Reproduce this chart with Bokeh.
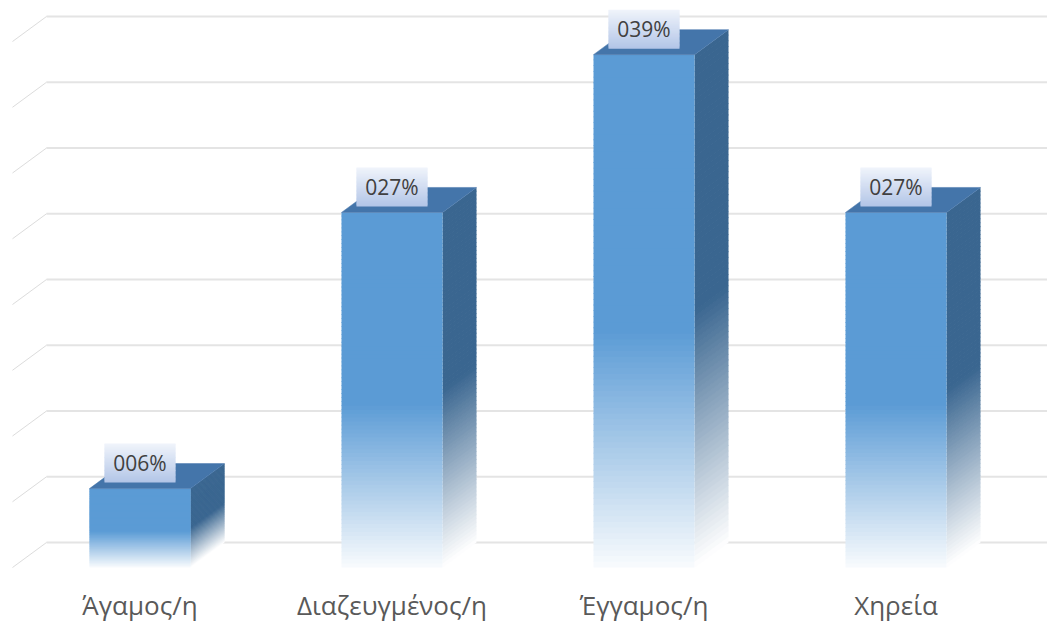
import numpy as np
from bokeh.plotting import figure
from bokeh.models import Range1d
from bokeh.core.properties import value
from bokeh.embed import file_html
from bokeh.resources import INLINE

# ---- data -------------------------------------------------------------
categories = ["Άγαμος/η", "Διαζευγμένος/η", "Έγγαμος/η", "Χηρεία"]
shares = [6, 27, 39, 27]
share_labels = ["006%", "027%", "039%", "027%"]
gridline_values = [0, 5, 10, 15, 20, 25, 30, 35, 40]

# ---- layout (pixels -> data units) ------------------------------------
W, H = 1047, 624
X0_PX, SLOT_PX = 139.5, 252.0        # first category centre, category pitch
FLOOR_PX, PX_PER_UNIT = 567.0, 13.15  # front floor line, pixels per percent
HALF = 50.5 / SLOT_PX                 # half width of a column front face
DX = 34.0 / SLOT_PX                   # depth offset (x)
DY = 25.0 / PX_PER_UNIT               # depth offset (y)
WALL_LEFT = (12.0 - X0_PX) / SLOT_PX
N_SLICES = 90
OVERLAP = 0.8 / PX_PER_UNIT           # slices overlap slightly to hide seams

FRONT = np.array([91, 155, 213])
SIDE = np.array([58, 102, 144])
TOP = np.array([68, 117, 170])
WHITE = np.array([255, 255, 255])


def hexcol(rgb):
    r, g, b = [int(round(c)) for c in rgb]
    return "#%02x%02x%02x" % (r, g, b)


def fade(base, t):
    return hexcol(WHITE * (1 - t) + base * t)


p = figure(width=W, height=H,
           x_range=Range1d((0 - X0_PX) / SLOT_PX, (W - X0_PX) / SLOT_PX),
           y_range=Range1d((FLOOR_PX - H) / PX_PER_UNIT, FLOOR_PX / PX_PER_UNIT),
           x_axis_location=None, y_axis_location=None,
           toolbar_location=None, output_backend="svg", min_border=0)
p.grid.visible = False
p.outline_line_color = None
p.background_fill_color = "white"
p.border_fill_color = "white"

# ---- back wall gridlines with the perspective stub on the left --------
gv = np.array(gridline_values, dtype=float)
p.segment(x0=[WALL_LEFT + DX] * len(gv), y0=gv + DY,
          x1=[p.x_range.end] * len(gv), y1=gv + DY,
          line_color="#e4e4e4", line_width=2)
p.segment(x0=[WALL_LEFT] * len(gv), y0=gv,
          x1=[WALL_LEFT + DX] * len(gv), y1=gv + DY,
          line_color="#dcdcdc", line_width=1)

# ---- 3-D columns, faded towards the floor -----------------------------
fl, fr, fb, ft, fc = [], [], [], [], []
sxs, sys_, sc = [], [], []
txs, tys, tc = [], [], []
for i, v in enumerate(shares):
    c = float(i)
    left, right = c - HALF, c + HALF
    edges = np.linspace(0, v, N_SLICES + 1)
    for k in range(N_SLICES):
        y0 = edges[k]
        y1 = min(v, edges[k + 1] + OVERLAP)
        f = (k + 0.5) / N_SLICES
        t = min(1.0, 0.04 + f / 0.48)
        ts = min(1.0, f / 0.5)
        fl.append(left); fr.append(right); fb.append(y0); ft.append(y1)
        fc.append(fade(FRONT, t))
        sxs.append([right, right + DX, right + DX, right])
        sys_.append([y0, y0 + DY, y1 + DY, y1])
        sc.append(fade(SIDE, ts))
    txs.append([left, right, right + DX, left + DX])
    tys.append([v, v, v + DY, v + DY])
    tc.append(hexcol(TOP))

p.patches(xs=sxs, ys=sys_, fill_color=sc, line_color=None)
p.quad(left=fl, right=fr, bottom=fb, top=ft, fill_color=fc, line_color=None)
p.patches(xs=txs, ys=tys, fill_color=tc, line_color=tc, line_width=0.5)

# ---- value labels in gradient boxes -----------------------------------
BOX_HALF = 35.5 / SLOT_PX
BOX_GAP = 6.0 / PX_PER_UNIT
BOX_H = 39.0 / PX_PER_UNIT
BOX_TOP = np.array([240, 244, 251])
BOX_BOT = np.array([178, 197, 231])
bl, br, bb, bt, bc = [], [], [], [], []
lab_x, lab_y = [], []
for i, v in enumerate(shares):
    base = v + BOX_GAP
    edges = np.linspace(base, base + BOX_H, 31)
    for k in range(30):
        f = (k + 0.5) / 30
        col = hexcol(BOX_BOT * (1 - f) + BOX_TOP * f)
        bl.append(i - BOX_HALF); br.append(i + BOX_HALF)
        bb.append(edges[k]); bt.append(min(base + BOX_H, edges[k + 1] + OVERLAP))
        bc.append(col)
    lab_x.append(float(i))
    lab_y.append(base + BOX_H / 2)
p.quad(left=bl, right=br, bottom=bb, top=bt, fill_color=bc, line_color=None)
p.text(x=lab_x, y=lab_y, text=share_labels, text_align="center",
       text_baseline="middle", text_font=value("Open Sans"),
       text_font_size="21px", text_color="#404040")

# ---- category labels --------------------------------------------------
p.text(x=[float(i) for i in range(len(categories))],
       y=[(FLOOR_PX - 604) / PX_PER_UNIT] * len(categories),
       text=categories, text_align="center", text_baseline="alphabetic",
       text_font=value("Open Sans"), text_font_size="26px",
       text_color="#595959")

open("out.html", "w").write(file_html(p, INLINE))
